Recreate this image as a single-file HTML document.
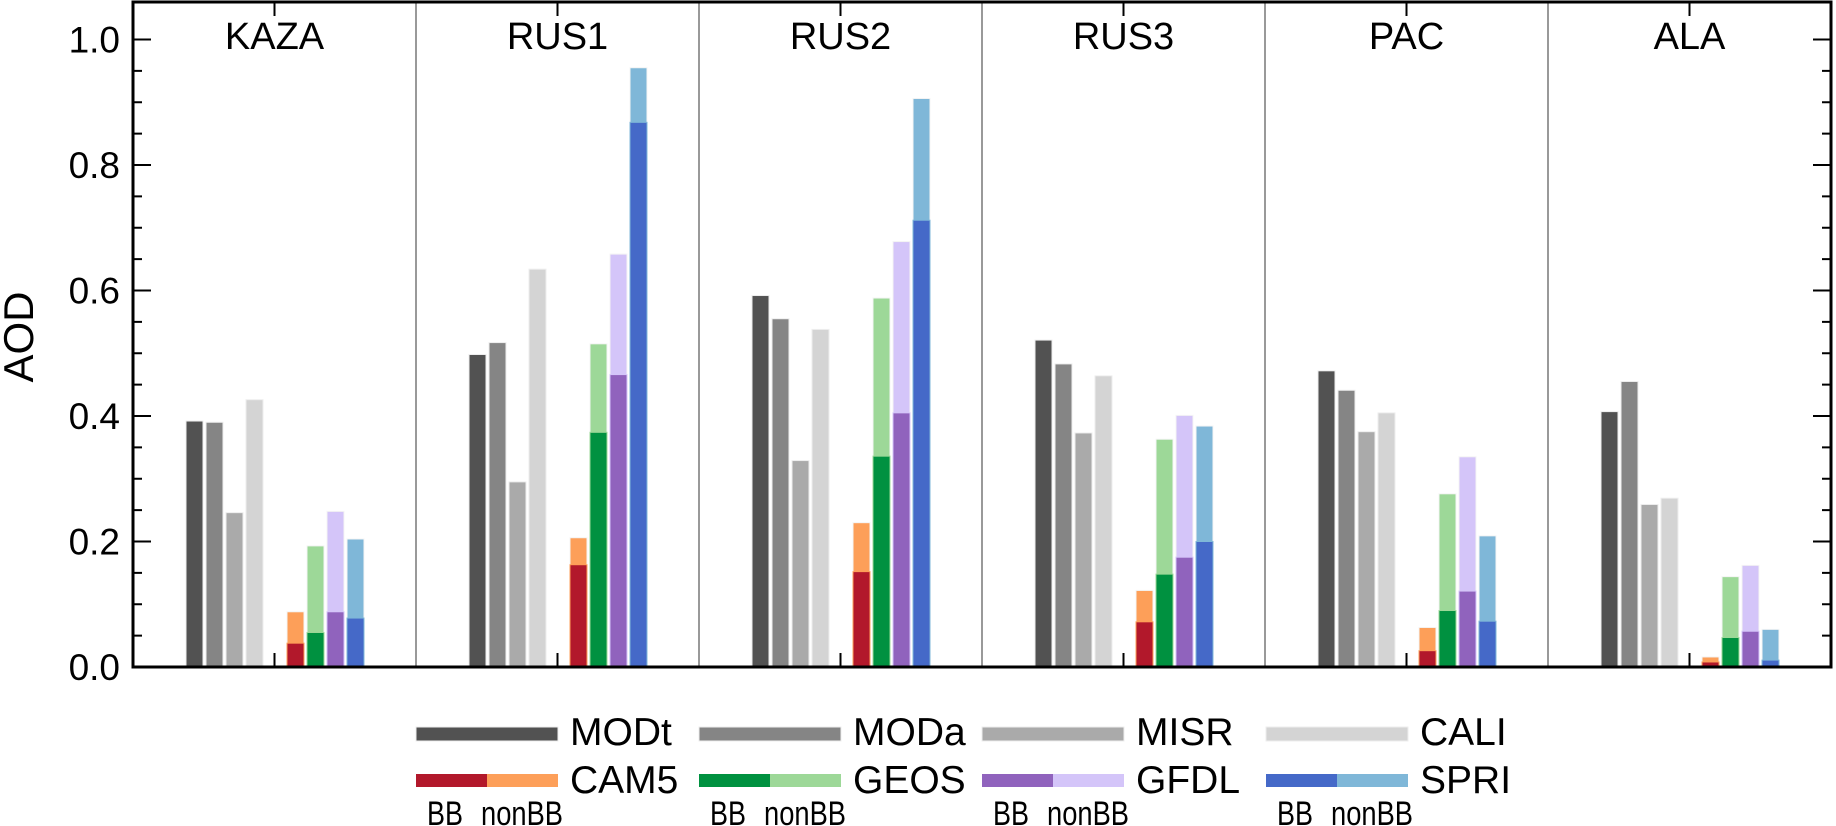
<!DOCTYPE html>
<html><head><meta charset="utf-8">
<style>
html,body{margin:0;padding:0;background:#fff;}
svg{display:block;font-family:"Liberation Sans",Arial,sans-serif;}
</style></head>
<body>
<svg id="chart" width="1836" height="826" viewBox="0 0 1836 826" xmlns="http://www.w3.org/2000/svg"></svg>
<script>
const regions = ["KAZA","RUS1","RUS2","RUS3","PAC","ALA"];
const obsNames = ["MODt","MODa","MISR","CALI"];
const modTot = ["CAM5","GEOS","GFDL","SPRI"];
const MODt = [0.392,0.498,0.592,0.521,0.472,0.407];
const MODa = [0.390,0.517,0.555,0.483,0.441,0.455];
const MISR = [0.246,0.295,0.329,0.373,0.375,0.259];
const CALI = [0.426,0.634,0.538,0.464,0.405,0.269];
const CAM5_BB = [0.038,0.163,0.152,0.072,0.026,0.008];
const CAM5_tot = [0.088,0.206,0.230,0.122,0.063,0.016];
const GEOS_BB = [0.055,0.374,0.336,0.148,0.090,0.047];
const GEOS_tot = [0.193,0.515,0.588,0.363,0.276,0.144];
const GFDL_BB = [0.088,0.466,0.405,0.175,0.121,0.057];
const GFDL_tot = [0.248,0.658,0.678,0.401,0.335,0.162];
const SPRI_BB = [0.078,0.868,0.712,0.200,0.073,0.011];
const SPRI_tot = [0.204,0.955,0.906,0.384,0.209,0.060];
const yTicks = [0.0,0.2,0.4,0.6,0.8,1.0];
const yTickLabels = ["0.0","0.2","0.4","0.6","0.8","1.0"];

const svg = document.getElementById('chart');
const NS = "http://www.w3.org/2000/svg";
const L=133, T=2, W=283, B=667, PPU=627.5;
const R = L + W*regions.length;
const yS = v => B - v*PPU;
function mk(tag, attrs, parent){const e=document.createElementNS(NS,tag);for(const k in attrs)e.setAttribute(k,attrs[k]);(parent||svg).appendChild(e);return e;}

const obsData=[MODt,MODa,MISR,CALI];
const obsCol=["#525252","#858585","#aaaaaa","#d4d4d4"];
const modBB=[CAM5_BB,GEOS_BB,GFDL_BB,SPRI_BB];
const modTotD=[CAM5_tot,GEOS_tot,GFDL_tot,SPRI_tot];
const colBB=["#b2182b","#009140","#9063bd","#4569c8"];
const colNon=["#fd9f59","#9dd898","#d4c5f9","#7fb7d8"];

regions.forEach((r,i)=>{
  const px=L+i*W;
  const g=mk('g',{});
  
  
  obsData.forEach((arr,j)=>{
    const x=px+53+j*20, y=yS(arr[i]);
    const b=mk('rect',{x:x,y:y,width:17,height:B-y,fill:obsCol[j],stroke:"#eee","stroke-width":1},g);
    
    
  });
  modBB.forEach((arr,j)=>{
    const x=px+154+j*20;
    const yt=yS(modTotD[j][i]), yb=yS(arr[i]);
    const n=mk('rect',{x:x,y:yt,width:17,height:B-yt,fill:colNon[j],stroke:"#f4f4f4","stroke-width":1},g);
    
    
    const bb=mk('rect',{x:x,y:yb,width:17,height:B-yb,fill:colBB[j],stroke:colNon[j],"stroke-width":1},g);
    
    
  });
  const t=mk('text',{x:px+W/2,y:49,"font-size":38,"text-anchor":"middle",fill:"#000"},g);
  t.textContent=r;
  
  
  mk('line',{x1:px+W/2,x2:px+W/2,y1:B,y2:B-14,stroke:"#000","stroke-width":2},g);
  mk('line',{x1:px+W/2,x2:px+W/2,y1:T,y2:T+14,stroke:"#000","stroke-width":2},g);
  if(i>0){
    const d=mk('line',{x1:px,x2:px,y1:T,y2:B,stroke:"#999","stroke-width":2},g);
    
    
  }
});

for(let k=0;k<=20;k++){
  const v=k*0.05; if(v>1.051) break;
  const y=yS(v); const major=(k%4===0);
  const len=major?18:9;
  mk('line',{x1:L,x2:L+len,y1:y,y2:y,stroke:"#000","stroke-width":2});
  mk('line',{x1:R,x2:R-len,y1:y,y2:y,stroke:"#000","stroke-width":2});
}
yTicks.forEach((v,k)=>{
  const t=mk('text',{x:120,y:yS(v)+13,"font-size":37,"text-anchor":"end",fill:"#000"});
  t.textContent=yTickLabels[k];
  
  
});
const yt=mk('text',{x:0,y:0,"font-size":42,"text-anchor":"middle",fill:"#000",transform:"translate(33,337) rotate(-90)"});
yt.textContent="AOD";



const frame=mk('rect',{x:L,y:T,width:R-L,height:B-T,fill:"none",stroke:"#000","stroke-width":3});



const lg=mk('g',{});


const colsX=[416,699,982,1266];
obsNames.forEach((n,j)=>{
  const x=colsX[j];
  const e=mk('g',{},lg);
  
  
  mk('rect',{x:x,y:727,width:142,height:14,fill:obsCol[j],stroke:"#eee","stroke-width":1},e);
  const t=mk('text',{x:x+154,y:745,"font-size":39,fill:"#000"},e);t.textContent=n;
});
modTot.forEach((n,j)=>{
  const x=colsX[j];
  const e=mk('g',{},lg);
  
  
  mk('rect',{x:x,y:774,width:71,height:13,fill:colBB[j]},e);
  mk('rect',{x:x+71,y:774,width:71,height:13,fill:colNon[j]},e);
  const t=mk('text',{x:x+154,y:793,"font-size":39,fill:"#000"},e);t.textContent=n;
  const b1=mk('text',{x:x+11,y:825,"font-size":34,fill:"#000",textLength:36,lengthAdjust:"spacingAndGlyphs"},e);b1.textContent="BB";
  const b2=mk('text',{x:x+65,y:825,"font-size":34,fill:"#000",textLength:82,lengthAdjust:"spacingAndGlyphs"},e);b2.textContent="nonBB";
});
</script>
</body></html>
